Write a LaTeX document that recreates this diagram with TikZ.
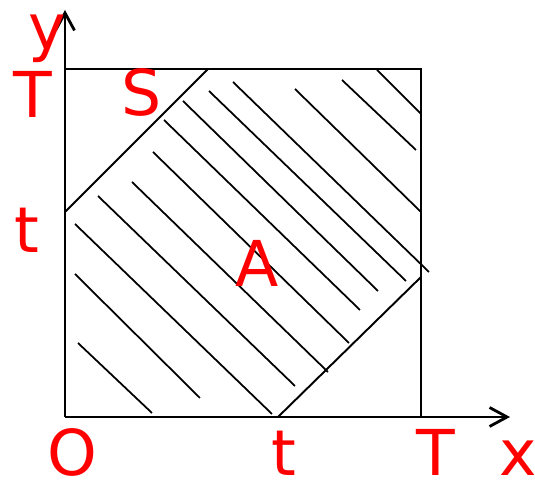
\documentclass[tikz,border=0pt]{standalone}
\usepackage{fontspec}
\setmainfont{DejaVu Sans}
\usepackage{tikz}
\usetikzlibrary{arrows.meta}
\tikzset{
  axis/.style={-{Straight Barb[length=3.5mm,width=3.8mm]}, line width=1.6pt},
  frame/.style={line width=1.1pt},
  hatch/.style={line width=1pt},
  lbl/.style={text=red, anchor=base, inner sep=0pt, font=\fontsize{36}{40}\selectfont},
}
\begin{document}
\begin{tikzpicture}[x=0.02cm, y=0.02cm]
  \useasboundingbox (-65,-66) rectangle (470,417);

  % Square and the two cut lines
  \coordinate (O)  at (0,0);
  \coordinate (Tx) at (356,0);
  \coordinate (Ty) at (0,348);
  \coordinate (TT) at (356,348);
  \coordinate (tx) at (213,0);
  \coordinate (ty) at (0,205);
  \draw[frame] (Tx) -- (TT) -- (Ty);
  \draw[frame] (ty) -- (143,348);
  \draw[frame] (tx) -- (356,140);

  % Hatching of A
  \foreach \xa/\ya/\xb/\yb in {312/347/356/303, 277/337/351/267, 230/328/356/205,
      168/335/364/145, 144/326/341/136, 118/316/313/126, 99/297/295/107,
      88/265/284/74, 67/235/263/45, 33/221/230/31, 10/193/207/3,
      10/143/135/19, 13/74/87/4}
    \draw[hatch] (\xa,\ya) -- (\xb,\yb);

  % Axes
  \coordinate (xend) at (445,0);
  \coordinate (yend) at (0,407);
  \draw[axis] (O) -- (xend);
  \draw[axis] (O) -- (yend);

  % Labels
  \node[lbl] (ylbl)  at (-18,367) {y};
  \node[lbl] (Tleft) at (-32,299) {T};
  \node[lbl] (Slbl)  at (77,301)  {S};
  \node[lbl] (tleft) at (-38,164) {t};
  \node[lbl] (Albl)  at (192,130) {A};
  \node[lbl] (Olbl)  at (7,-59)   {O};
  \node[lbl] (tbot)  at (219,-59) {t};
  \node[lbl] (Tbot)  at (371,-59) {T};
  \node[lbl] (xlbl)  at (453,-59) {x};
\end{tikzpicture}
\end{document}
